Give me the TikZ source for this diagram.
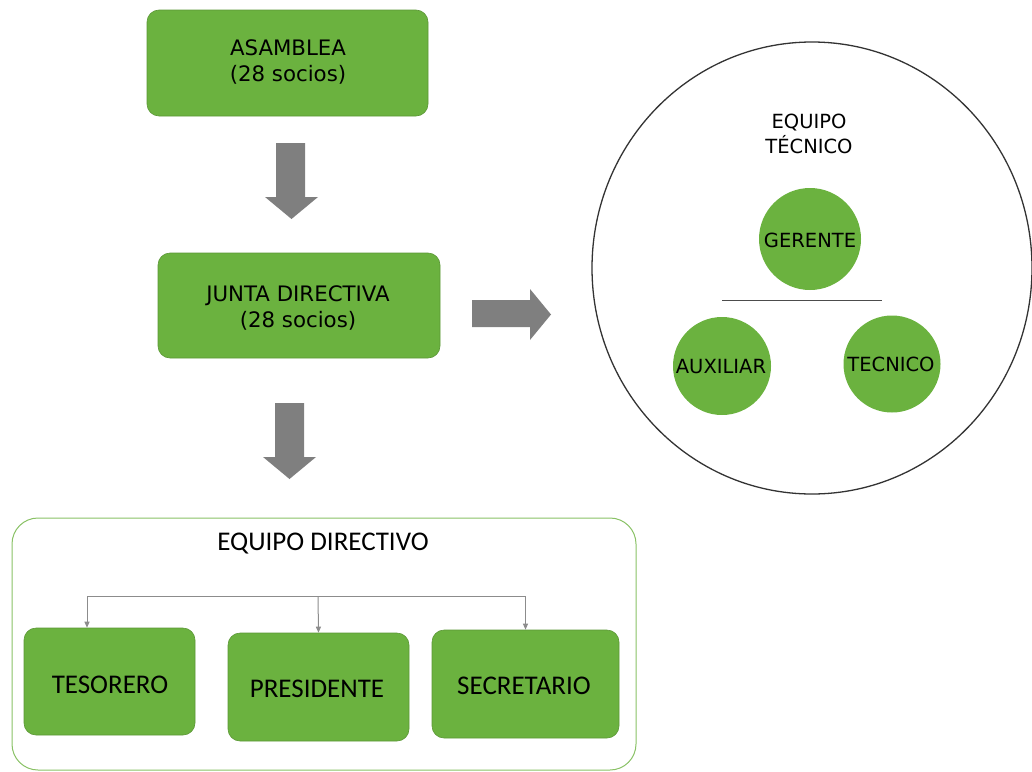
\documentclass[tikz,border=0pt]{standalone}
\usepackage{fontspec}
\setmainfont{DejaVu Sans}
\newfontfamily\calib{Carlito}
\usetikzlibrary{arrows.meta,calc,shapes.geometric}
\definecolor{boxgreen}{HTML}{6BB23F}
\definecolor{arrgray}{HTML}{7F7F7F}
\definecolor{linegray}{HTML}{8C8C8C}
\tikzset{
  gbox/.style={fill=boxgreen, draw=boxgreen!85!black, line width=0.6pt, rounded corners=12pt, align=center, inner sep=0pt},
  gcirc/.style={circle, fill=boxgreen, inner sep=0pt},
  blockarrow/.style={fill=arrgray, draw=none},
  conn/.style={draw=linegray, line width=1pt, -{Triangle[length=6pt,width=5pt]}},
  toptext/.style={font=\fontsize{21.3}{25.5}\selectfont, align=center},
  bottext/.style={font=\calib\fontsize{27}{32}\selectfont},
  circtext/.style={font=\fontsize{19.5}{22}\selectfont}
}
\begin{document}
\begin{tikzpicture}[x=1pt,y=-1pt]
\useasboundingbox (0,0) rectangle (1032,771);
% top boxes
\node[gbox, minimum width=281pt, minimum height=106pt] (asam) at (287.5,63) {};
\node[toptext] (asamt) at (288,62) {ASAMBLEA\\(28 socios)};
\node[gbox, minimum width=282pt, minimum height=105pt] (junta) at (299,305.5) {};
\node[toptext] (juntat) at (298,308) {JUNTA DIRECTIVA\\(28 socios)};
% block arrows
\fill[blockarrow] (276,143) -- (305,143) -- (305,197) -- (318,197) -- (291.5,219) -- (265,197) -- (276,197) -- cycle;
\fill[blockarrow] (275,403) -- (304,403) -- (304,457) -- (316,457) -- (289.5,479) -- (263,457) -- (275,457) -- cycle;
\fill[blockarrow] (472,300) -- (530,300) -- (530,289) -- (551,314.5) -- (530,340) -- (530,327) -- (472,327) -- cycle;
% equipo directivo frame
\node[draw=boxgreen!80!white, line width=1pt, rounded corners=26pt, minimum width=624pt, minimum height=252pt, inner sep=0pt] (frame) at (324,644) {};
\node[font=\calib\fontsize{27}{32}\selectfont] (edtitle) at (323,544) {EQUIPO DIRECTIVO};
\node[gbox, minimum width=171pt, minimum height=107pt] (teso) at (109.5,681.5) {};
\node[bottext] (tesot) at (110,685) {TESORERO};
\node[gbox, minimum width=181pt, minimum height=108pt] (pres) at (318.5,687) {};
\node[bottext] (prest) at (317,689) {PRESIDENTE};
\node[gbox, minimum width=187pt, minimum height=108pt] (secr) at (525.5,684) {};
\node[bottext] (secrt) at (524,686) {SECRETARIO};
\coordinate (hub) at (318,596);
\draw[conn] (hub) -| ($(teso.north)+(-22.5,0)$);
\draw[conn] (hub) -- (pres.north);
\draw[conn] (hub) -| (secr.north);
% equipo tecnico
\node[draw=black!80, line width=1.3pt, ellipse, minimum width=440pt, minimum height=452pt, inner sep=0pt] (big) at (812,268) {};
\node[font=\fontsize{19.5}{25}\selectfont, align=center] (ettitle) at (809,134) {EQUIPO\\TÉCNICO};
\node[gcirc, minimum size=102pt] (ger) at (810,239) {};
\node[circtext] (gert) at (810,240) {GERENTE};
\node[gcirc, minimum size=98pt] (aux) at (722,366) {};
\node[circtext] (auxt) at (721,367) {AUXILIAR};
\node[gcirc, minimum size=97pt] (tec) at (892,364) {};
\node[circtext] (tect) at (891,364) {TECNICO};
\coordinate (sepl) at (722,300);
\coordinate (sepr) at (882,300);
\draw[draw=black!70, line width=0.8pt] (sepl) -- (sepr);
\end{tikzpicture}
\end{document}
